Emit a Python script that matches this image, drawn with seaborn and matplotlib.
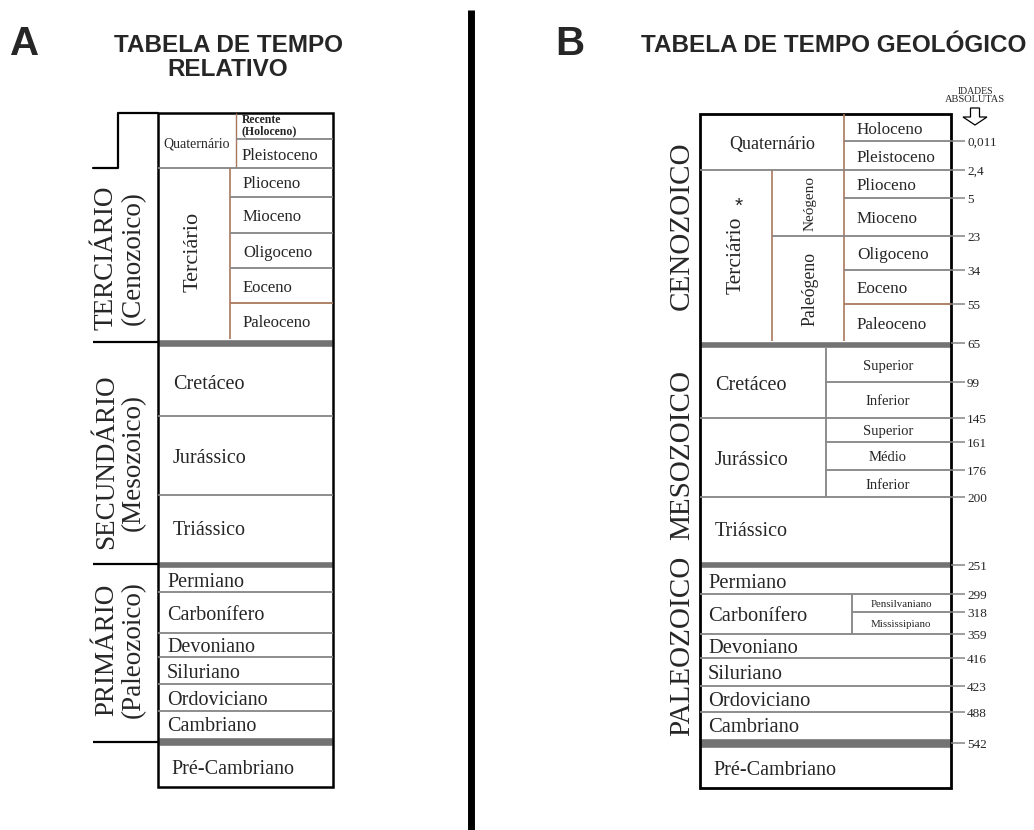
import matplotlib.pyplot as plt
import matplotlib.patches as mpatches
import seaborn as sns

# ---------------- data ----------------
# Table A: relative time scale
A_ERAS = ["TERCIÁRIO\n(Cenozoico)", "SECUNDÁRIO\n(Mesozoico)", "PRIMÁRIO\n(Paleozoico)"]
A_QUAT_EPOCHS = ["Recente\n(Holoceno)", "Pleistoceno"]
A_TERT_EPOCHS = ["Plioceno", "Mioceno", "Oligoceno", "Eoceno", "Paleoceno"]
A_MESO_PERIODS = ["Cretáceo", "Jurássico", "Triássico"]
A_PALEO_PERIODS = ["Permiano", "Carbonífero", "Devoniano", "Siluriano",
                   "Ordoviciano", "Cambriano"]

# Table B: geologic time scale
B_ERAS = ["CENOZOICO", "MESOZOICO", "PALEOZOICO"]
B_CENO_EPOCHS = ["Holoceno", "Pleistoceno", "Plioceno", "Mioceno",
                 "Oligoceno", "Eoceno", "Paleoceno"]
B_MESO_PERIODS = ["Cretáceo", "Jurássico", "Triássico"]
B_MESO_SUBDIV = [["Superior", "Inferior"], ["Superior", "Médio", "Inferior"], []]
B_PALEO_PERIODS = ["Permiano", "Carbonífero", "Devoniano", "Siluriano",
                   "Ordoviciano", "Cambriano"]
B_CARB_SUBDIV = ["Pensilvaniano", "Mississipiano"]
AGES = ["0,011", "2,4", "5", "23", "34", "55", "65", "99", "145", "161", "176",
        "200", "251", "299", "318", "359", "416", "423", "488", "542"]

# ---------------- layout (pixel rows / columns) ----------------
A_X0, A_X1 = 158, 333
A_QUAT_EDGES = [113, 139, 168]
A_TERT_EDGES = [168, 197, 233, 268, 303, 339]
A_MESO_EDGES = [347, 416, 495, 561]
A_PALEO_EDGES = [568, 592, 633, 657, 684, 711, 737]
A_PRE_EDGES = [746, 787]
A_BARS = [(339, 8), (561, 7), (737, 9)]
A_ERA_Y = [258, 462, 650]
A_ERA_SPLIT = [168, 342, 564, 742]

B_X0, B_X1 = 700, 951
B_CENO_EDGES = [114, 141, 170, 198, 236, 270, 304, 341]
B_MESO_EDGES = [348, 418, 497, 561]
B_MESO_SUB_EDGES = [[348, 382, 418], [418, 442, 470, 497], []]
B_PALEO_EDGES = [568, 594, 634, 658, 686, 712, 738]
B_CARB_EDGES = [594, 612, 634]
B_PRE_EDGES = [748, 788]
B_BARS = [(341, 7), (561, 7), (738, 10)]
B_ERA_Y = [226, 455, 646]
B_AGE_Y = [141, 170, 198, 236, 270, 304, 343, 382, 418, 442, 470, 497,
           565, 594, 612, 634, 658, 686, 712, 743]

GRAY = "#858585"
BROWN = "#a9785c"
BAR = "#737373"
SANS = ["Liberation Sans", "DejaVu Sans"]
VA = "center_baseline"

sns.set_theme(style="white")
plt.rcParams['font.family'] = ['Liberation Serif', 'DejaVu Serif']

fig = plt.figure(figsize=(10.34, 8.3), dpi=100)
ax = fig.add_axes([0, 0, 1, 1])
ax.set_xlim(0, 1034)
ax.set_ylim(830, 0)
ax.axis("off")


def mid(e, i):
    return (e[i] + e[i + 1]) / 2


def rows(edges, x0, x1, color=GRAY):
    ax.hlines(edges[1:-1], x0, x1, colors=color, lw=1.3)


def bars(spec, x0, x1):
    for y, h in spec:
        ax.broken_barh([(x0, x1 - x0)], (y, h), facecolors=BAR)


# ---------------- headers ----------------
ax.text(25, 44, "A", fontsize=29, fontweight="bold", family=SANS,
        ha="center", va="center")
ax.text(228, 45, "TABELA DE TEMPO", fontsize=17.5, fontweight="bold",
        family=SANS, ha="center", va="center")
ax.text(228, 70, "RELATIVO", fontsize=17.5, fontweight="bold",
        family=SANS, ha="center", va="center")
ax.text(570, 44, "B", fontsize=29, fontweight="bold", family=SANS,
        ha="center", va="center")
ax.text(1026, 45, "TABELA DE TEMPO GEOLÓGICO", fontsize=17.5, fontweight="bold",
        family=SANS, ha="right", va="center")
ax.vlines(470.5, 10, 830, colors="black", lw=5)

# ---------------- table A ----------------
# quaternary block
ax.vlines(236, A_QUAT_EDGES[0], A_QUAT_EDGES[-1], colors=BROWN, lw=1.0)
ax.hlines(A_QUAT_EDGES[1], 236, A_X1, colors=GRAY, lw=1.3)
ax.text(197, 142, "Quaternário", fontsize=10, ha="center", va=VA)
ax.text(242, 126, A_QUAT_EPOCHS[0], fontsize=8.5, fontweight="bold",
        ha="left", va="center", linespacing=0.95)
ax.text(242, mid(A_QUAT_EDGES, 1), A_QUAT_EPOCHS[1], fontsize=12,
        ha="left", va=VA)
ax.hlines(A_QUAT_EDGES[-1], A_X0, A_X1, colors=GRAY, lw=1.3)

# tertiary block
ax.vlines(230, A_TERT_EDGES[0], A_TERT_EDGES[-1], colors=BROWN, lw=1.2)
ax.text(193, 252, "Terciário", fontsize=16, rotation=90, ha="center", va="center")
ax.hlines(A_TERT_EDGES[1:-2], 230, A_X1, colors=GRAY, lw=1.3)
ax.hlines(A_TERT_EDGES[-2], 230, A_X1, colors=BROWN, lw=1.3)
for i, name in enumerate(A_TERT_EPOCHS):
    ax.text(243, mid(A_TERT_EDGES, i), name, fontsize=12, ha="left", va=VA)

# mesozoic
rows(A_MESO_EDGES, A_X0, A_X1)
for i, name in enumerate(A_MESO_PERIODS):
    ax.text(173, mid(A_MESO_EDGES, i), name, fontsize=14.5, ha="left", va=VA)

# paleozoic
rows(A_PALEO_EDGES, A_X0, A_X1)
for i, name in enumerate(A_PALEO_PERIODS):
    ax.text(167, mid(A_PALEO_EDGES, i), name, fontsize=14.5, ha="left", va=VA)

ax.text(171, mid(A_PRE_EDGES, 0), "Pré-Cambriano", fontsize=14.5,
        ha="left", va=VA)
bars(A_BARS, A_X0, A_X1)
ax.add_patch(mpatches.Rectangle((A_X0, A_QUAT_EDGES[0]), A_X1 - A_X0,
                                A_PRE_EDGES[-1] - A_QUAT_EDGES[0],
                                fill=False, ec="black", lw=1.8))

# era bracket
ax.plot([A_X0, 118, 118, 93], [113, 113, 168, 168], color="black", lw=1.6)
ax.hlines(A_ERA_SPLIT[1:], 93, A_X0, colors="black", lw=1.6)
for y, name in zip(A_ERA_Y, A_ERAS):
    ax.text(120, y, name, fontsize=19.5, rotation=90, ha="center", va="center",
            linespacing=1.12)

# ---------------- table B ----------------
# cenozoic
ax.vlines(844, B_CENO_EDGES[0], B_CENO_EDGES[-1], colors=BROWN, lw=1.2)
ax.vlines(772, B_CENO_EDGES[2], B_CENO_EDGES[-1], colors=BROWN, lw=1.2)
for k in [1, 3, 5]:
    ax.hlines(B_CENO_EDGES[k], 844, B_X1, colors=GRAY, lw=1.3)
ax.hlines(B_CENO_EDGES[2], B_X0, B_X1, colors=GRAY, lw=1.3)
ax.hlines(B_CENO_EDGES[4], 772, B_X1, colors=GRAY, lw=1.3)
ax.hlines(B_CENO_EDGES[6], 844, B_X1, colors=BROWN, lw=1.3)
for i, name in enumerate(B_CENO_EPOCHS):
    ax.text(857, mid(B_CENO_EDGES, i), name, fontsize=12.3, ha="left", va=VA)
ax.text(772, 143, "Quaternário", fontsize=13, ha="center", va=VA)
ax.text(736, 255, "Terciário", fontsize=15.5, rotation=90,
        ha="center", va="center")
ax.text(739, 206, "*", fontsize=15, ha="center", va="center", family=SANS)
ax.text(810, (B_CENO_EDGES[2] + B_CENO_EDGES[4]) / 2, "Neógeno", fontsize=11,
        rotation=90, ha="center", va="center")
ax.text(810, (B_CENO_EDGES[4] + B_CENO_EDGES[7]) / 2, "Paleógeno", fontsize=12.8,
        rotation=90, ha="center", va="center")

# mesozoic
rows(B_MESO_EDGES, B_X0, B_X1)
ax.vlines(826, B_MESO_EDGES[0], B_MESO_EDGES[2], colors=GRAY, lw=1.3)
for i, name in enumerate(B_MESO_PERIODS):
    ax.text(715, mid(B_MESO_EDGES, i), name, fontsize=14.5, ha="left", va=VA)
    sub = B_MESO_SUB_EDGES[i]
    if sub:
        rows(sub, 826, B_X1)
        for j, s in enumerate(B_MESO_SUBDIV[i]):
            ax.text(888, mid(sub, j), s, fontsize=10.5, ha="center", va=VA)

# paleozoic
rows(B_PALEO_EDGES, B_X0, B_X1)
ax.vlines(852, B_CARB_EDGES[0], B_CARB_EDGES[-1], colors=GRAY, lw=1.3)
rows(B_CARB_EDGES, 852, B_X1)
for j, s in enumerate(B_CARB_SUBDIV):
    ax.text(901, mid(B_CARB_EDGES, j), s, fontsize=7.8, ha="center", va=VA)
for i, name in enumerate(B_PALEO_PERIODS):
    ax.text(708, mid(B_PALEO_EDGES, i), name, fontsize=14.8, ha="left", va=VA)
ax.text(713, mid(B_PRE_EDGES, 0), "Pré-Cambriano", fontsize=14.5,
        ha="left", va=VA)
bars(B_BARS, B_X0, B_X1)
ax.add_patch(mpatches.Rectangle((B_X0, B_CENO_EDGES[0]), B_X1 - B_X0,
                                B_PRE_EDGES[-1] - B_CENO_EDGES[0],
                                fill=False, ec="black", lw=2.0))

for y, name in zip(B_ERA_Y, B_ERAS):
    ax.text(682, y, name, fontsize=21, rotation=90, ha="center", va="center")

# absolute ages
ax.hlines(B_AGE_Y, B_X1, 965, colors=GRAY, lw=1.1)
for y, lab in zip(B_AGE_Y, AGES):
    ax.text(967, y, lab, fontsize=9.5, ha="left", va=VA)
ax.text(975, 91, "IDADES", fontsize=7, ha="center", va="center")
ax.text(975, 100, "ABSOLUTAS", fontsize=7.5, ha="center", va="center")
ax.add_patch(mpatches.FancyArrow(975, 108, 0, 9, width=9, head_width=24,
                                 head_length=8, length_includes_head=False,
                                 fc="white", ec="black", lw=0.9))

fig.savefig("out.png", dpi=100)
